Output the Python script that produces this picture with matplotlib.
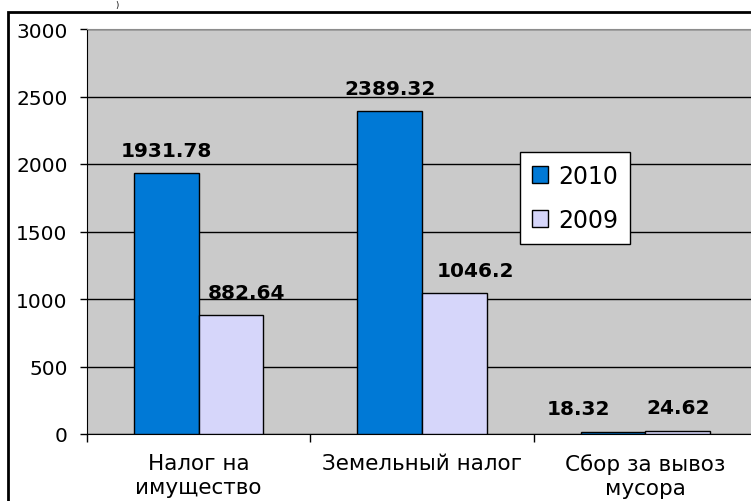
import numpy as np
import matplotlib.pyplot as plt
from matplotlib.patches import Rectangle

categories = ['Налог на\nимущество', 'Земельный налог', 'Сбор за вывоз\nмусора']
years = ['2010', '2009']
values_2010 = [1931.78, 2389.32, 18.32]
values_2009 = [882.64, 1046.2, 24.62]
y_ticks = [0, 500, 1000, 1500, 2000, 2500, 3000]

plt.rcParams['font.family'] = ['DejaVu Sans']

fig = plt.figure(figsize=(7.51, 5.02), dpi=100)
# plot area runs slightly past the right edge, as in the original
ax = fig.add_axes([87 / 751, 1 - 435 / 502, 670 / 751, 405 / 502])
ax.set_facecolor('#cacaca')

x = np.arange(len(categories))
w = 0.29
b1 = ax.bar(x - w / 2, values_2010, w, color='#0079d6', edgecolor='black', linewidth=1, label=years[0], zorder=3)
b2 = ax.bar(x + w / 2, values_2009, w, color='#d6d6fa', edgecolor='black', linewidth=1, label=years[1], zorder=3)

lab1 = ax.bar_label(b1, labels=[f'{v:g}' for v in values_2010], padding=9.5, fontsize=14.5, fontweight='bold')
lab2 = ax.bar_label(b2, labels=[f'{v:g}' for v in values_2009], padding=9.5, fontsize=14.5, fontweight='bold')
# labels nudged sideways the way the original places them
lab1[2].xyann = (-25, 9.5)
lab2[0].xyann = (11, 9.5)
lab2[1].xyann = (15, 9.5)

ax.set_ylim(0, 3000)
ax.set_xlim(-0.5, 2.5)
ax.set_yticks(y_ticks)
ax.tick_params(axis='y', direction='out', length=5, width=1, pad=9, labelsize=14.5)
ax.yaxis.grid(True, color='black', linewidth=1)
ax.set_axisbelow(True)

ax.set_xticks([-0.5, 0.5, 1.5])
ax.set_xticklabels([])
ax.tick_params(axis='x', which='major', direction='out', length=6, width=1)
ax.set_xticks(x, minor=True)
ax.set_xticklabels(categories, minor=True, fontsize=15.5, linespacing=1.25)
ax.tick_params(axis='x', which='minor', length=0, pad=14)

ax.spines['left'].set_color('black')
ax.spines['bottom'].set_color('black')
ax.spines['top'].set_color('#8c8c8c')
ax.spines['right'].set_visible(False)

leg = ax.legend(loc='upper left', bbox_to_anchor=(520 / 751, 1 - 153 / 502),
                bbox_transform=fig.transFigure, borderaxespad=0, fontsize=17,
                frameon=True, fancybox=False, framealpha=1, edgecolor='black',
                handlelength=0.68, handleheight=0.68, handletextpad=0.45,
                labelspacing=0.85, borderpad=0.5)
leg.get_frame().set_linewidth(1)
leg.set_zorder(5)

# outer frame of the chart (cut off on the right and bottom)
fig.patches.append(Rectangle((7.5 / 751, -0.2), 1.2, 0.2 + 1 - 12.5 / 502,
                             transform=fig.transFigure, fill=False,
                             edgecolor='black', linewidth=2))
fig.text(117 / 751, 0.999, ')', fontsize=6, ha='center', va='top')

fig.savefig('out.png', dpi=100)
